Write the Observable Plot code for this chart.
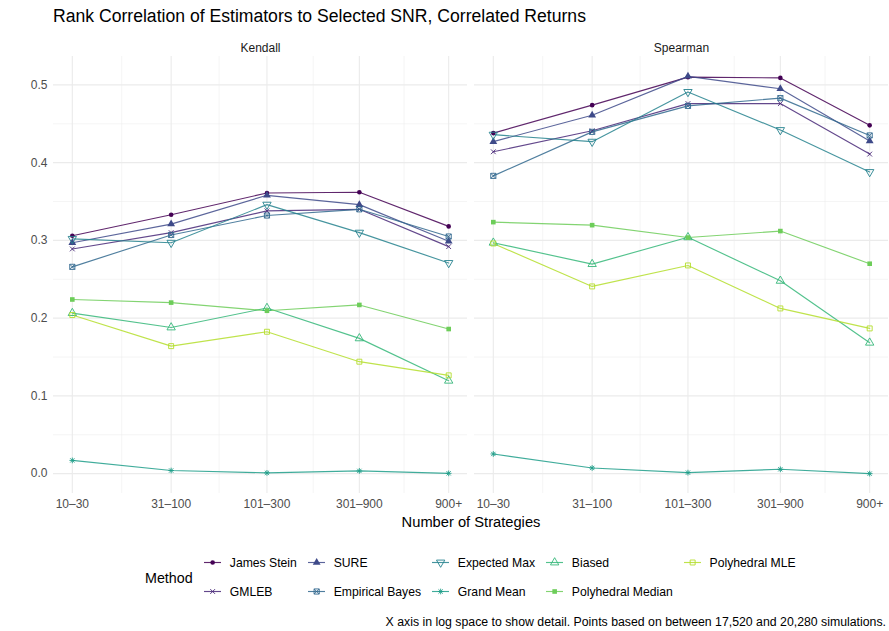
<!DOCTYPE html>
<html>
<head>
<meta charset="utf-8">
<script src="https://cdn.jsdelivr.net/npm/d3@7"></script>
<script src="https://cdn.jsdelivr.net/npm/@observablehq/plot@0.6"></script>
<style>
  html, body { margin: 0; padding: 0; background: #fff; }
  #wrap { position: relative; width: 889px; height: 631px; background: #fff;
          font-family: "Liberation Sans", Arial, Helvetica, sans-serif; overflow: hidden; }
  .abs { position: absolute; white-space: nowrap; line-height: 1; }
  #title { left: 53px; top: 8px; font-size: 17.6px; color: #000; }
  #ylab { left: 19px; top: 274px; font-size: 14.7px; color: #000;
          transform: translate(-50%, -50%) rotate(-90deg); }
  #xlab { left: 471px; top: 522px; font-size: 14.7px; color: #000; transform: translate(-50%, -50%); }
  #chart { position: absolute; left: 0; top: 30px; }
  #legendTitle { left: 145px; top: 578px; font-size: 14.3px; color: #000; transform: translateY(-50%); }
  #legend { position: absolute; left: 204px; top: 554px; display: grid; grid-auto-flow: column;
            grid-template-rows: 17px 17px; row-gap: 12px; column-gap: 11px; }
  .item { display: flex; align-items: center; font-size: 12.2px; color: #000; }
  .item svg { margin-right: 8.5px; }
  #caption { right: 3px; top: 622px; font-size: 12.3px; color: #000; transform: translateY(-50%); }
  svg [aria-label^="fx-axis"] text { fill: #1a1a1a; }
</style>
</head>
<body>
<div id="wrap">
  <div id="title" class="abs"></div>
  <div id="ylab" class="abs"></div>
  <div id="chart"></div>
  <div id="xlab" class="abs"></div>
  <div id="legendTitle" class="abs"></div>
  <div id="legend"></div>
  <div id="caption" class="abs"></div>
</div>
<script>
// ---------------- data ----------------
const titleText = "Rank Correlation of Estimators to Selected SNR, Correlated Returns";
const xTitle = "Number of Strategies";
const yTitle = "Correlation";
const legendTitle = "Method";
const captionText = "X axis in log space to show detail. Points based on between 17,520 and 20,280 simulations.";

const panels = ["Kendall", "Spearman"];
const methods = ["James Stein", "GMLEB", "SURE", "Empirical Bayes", "Expected Max",
                 "Grand Mean", "Biased", "Polyhedral Median", "Polyhedral MLE"];
const colors = ["#440154", "#482878", "#3E4A89", "#31688E", "#26828E",
                "#1F9E89", "#35B779", "#6DCD59", "#B4DE2C"];
const binLabels = ["10–30", "31–100", "101–300", "301–900", "900+"];
// representative number of strategies per bin (log-spaced axis)
const strategyCounts = [17.3, 54.2, 164, 477, 1339];
const yTicks = [0, 0.1, 0.2, 0.3, 0.4, 0.5];

// rows follow `methods`, columns follow `binLabels`
const kendall = [
  [0.306, 0.333, 0.361, 0.362, 0.318],
  [0.289, 0.310, 0.338, 0.340, 0.292],
  [0.297, 0.321, 0.358, 0.346, 0.299],
  [0.266, 0.307, 0.332, 0.340, 0.305],
  [0.302, 0.297, 0.346, 0.310, 0.271],
  [0.017, 0.004, 0.001, 0.0035, 0.0004],
  [0.2065, 0.188, 0.213, 0.174, 0.1195],
  [0.224, 0.220, 0.2095, 0.217, 0.186],
  [0.204, 0.164, 0.1825, 0.144, 0.1264]
];
const spearman = [
  [0.438, 0.474, 0.510, 0.509, 0.448],
  [0.414, 0.441, 0.476, 0.476, 0.411],
  [0.427, 0.461, 0.511, 0.495, 0.428],
  [0.383, 0.4396, 0.473, 0.483, 0.435],
  [0.436, 0.427, 0.491, 0.442, 0.388],
  [0.0253, 0.0073, 0.0013, 0.0056, 0.0],
  [0.297, 0.2695, 0.304, 0.248, 0.1684],
  [0.3235, 0.3196, 0.3037, 0.312, 0.270],
  [0.296, 0.2408, 0.2678, 0.2125, 0.1868]
];

// ---------------- symbols (ggplot shapes) ----------------
const triDown = { draw(c, size) {
  const y = -Math.sqrt(size / (Math.sqrt(3) * 3));
  c.moveTo(0, -y * 2); c.lineTo(-Math.sqrt(3) * y, y); c.lineTo(Math.sqrt(3) * y, y); c.closePath();
}};
const timesSym = { draw(c, size) {
  const w = Math.sqrt(size) / 2;
  c.moveTo(-w, -w); c.lineTo(w, w); c.moveTo(-w, w); c.lineTo(w, -w);
}};
const squareCross = { draw(c, size) {
  const w = Math.sqrt(size) / 2;
  c.moveTo(-w, -w); c.lineTo(w, -w); c.lineTo(w, w); c.lineTo(-w, w); c.closePath();
  c.moveTo(-w, -w); c.lineTo(w, w); c.moveTo(-w, w); c.lineTo(w, -w);
}};
const star8 = { draw(c, size) {
  const w = Math.sqrt(size) / 2 * 1.15, d = w * 0.75;
  c.moveTo(-w, 0); c.lineTo(w, 0); c.moveTo(0, -w); c.lineTo(0, w);
  c.moveTo(-d, -d); c.lineTo(d, d); c.moveTo(-d, d); c.lineTo(d, -d);
}};
// per method: [symbol, filled?, radius]
const shapes = [
  [d3.symbolCircle, true, 2.3],
  [timesSym, false, 2.7],
  [d3.symbolTriangle, true, 2.9],
  [squareCross, false, 2.9],
  [triDown, false, 3.1],
  [star8, false, 2.8],
  [d3.symbolTriangle, false, 3.1],
  [d3.symbolSquare, true, 2.6],
  [d3.symbolSquare, false, 2.8]
];

// ---------------- table ----------------
const rows = [];
panels.forEach((p, pi) => {
  const src = pi === 0 ? kendall : spearman;
  methods.forEach((m, mi) => {
    strategyCounts.forEach((c, j) => rows.push({panel: p, method: m, count: c, value: src[mi][j]}));
  });
});

const labelOf = new Map(strategyCounts.map((c, i) => [c, binLabels[i]]));
const ratio = Math.pow(strategyCounts[strategyCounts.length - 1] / strategyCounts[0], 0.05);
const xDomain = [strategyCounts[0] / ratio, strategyCounts[strategyCounts.length - 1] * ratio];
const [vmin, vmax] = d3.extent(rows, d => d.value);
const pad = (vmax - vmin) * 0.05;
const yDomain = [vmin - pad, vmax + pad];
const xMinor = d3.pairs(strategyCounts).map(([a, b]) => Math.sqrt(a * b));
const yMinor = d3.pairs(yTicks).map(([a, b]) => (a + b) / 2);

const grid = "#ebebeb";
const chart = Plot.plot({
  width: 889, height: 483,
  marginLeft: 53, marginRight: 0, marginTop: 26, marginBottom: 20,
  style: {fontFamily: '"Liberation Sans", Arial, Helvetica, sans-serif', fontSize: "12px",
          background: "white", color: "#4d4d4d"},
  facet: {data: rows, x: "panel", label: null},
  fx: {paddingInner: 0.0166, paddingOuter: 0, label: null, axis: "top", tickSize: 0, tickPadding: 5, domain: panels},
  x: {type: "log", domain: xDomain, ticks: strategyCounts, tickFormat: d => labelOf.get(d),
      tickSize: 0, tickPadding: 6, label: null},
  y: {domain: yDomain, ticks: yTicks, tickFormat: d3.format(".1f"), tickSize: 0, tickPadding: 6, label: null},
  color: {domain: methods, range: colors},
  marks: [
    Plot.ruleY(yMinor, {stroke: grid, strokeWidth: 0.55}),
    Plot.ruleX(xMinor, {stroke: grid, strokeWidth: 0.55}),
    Plot.ruleY(yTicks, {stroke: grid, strokeWidth: 1.1}),
    Plot.ruleX(strategyCounts, {stroke: grid, strokeWidth: 1.1}),
    Plot.line(rows, {x: "count", y: "value", z: "method", stroke: "method", strokeWidth: 1.15, strokeOpacity: 0.85}),
    ...methods.map((m, i) => {
      const [sym, filled, r] = shapes[i];
      return Plot.dot(rows, {
        filter: d => d.method === m, x: "count", y: "value", symbol: sym, r,
        fill: filled ? "method" : "none", stroke: filled ? "none" : "method", strokeWidth: 0.9
      });
    })
  ]
});
document.getElementById("chart").appendChild(chart);

// ---------------- texts ----------------
document.getElementById("title").textContent = titleText;
document.getElementById("ylab").textContent = yTitle;
document.getElementById("xlab").textContent = xTitle;
document.getElementById("legendTitle").textContent = legendTitle;
document.getElementById("caption").textContent = captionText;

// ---------------- legend ----------------
const legend = document.getElementById("legend");
methods.forEach((m, i) => {
  const [sym, filled, r] = shapes[i];
  const item = document.createElement("div");
  item.className = "item";
  const ns = "http://www.w3.org/2000/svg";
  const svg = document.createElementNS(ns, "svg");
  svg.setAttribute("width", 17.3); svg.setAttribute("height", 17);
  const line = document.createElementNS(ns, "line");
  line.setAttribute("x1", 0); line.setAttribute("x2", 17.3);
  line.setAttribute("y1", 8.5); line.setAttribute("y2", 8.5);
  line.setAttribute("stroke", colors[i]); line.setAttribute("stroke-width", 1.15);
  line.setAttribute("stroke-opacity", 0.85);
  svg.appendChild(line);
  const path = document.createElementNS(ns, "path");
  path.setAttribute("d", d3.symbol(sym, Math.PI * r * r)());
  path.setAttribute("transform", "translate(8.65,8.5)");
  path.setAttribute("fill", filled ? colors[i] : "none");
  path.setAttribute("stroke", filled ? "none" : colors[i]);
  path.setAttribute("stroke-width", 0.9);
  svg.appendChild(path);
  item.appendChild(svg);
  const span = document.createElement("span");
  span.textContent = m;
  item.appendChild(span);
  legend.appendChild(item);
});
</script>
</body>
</html>
